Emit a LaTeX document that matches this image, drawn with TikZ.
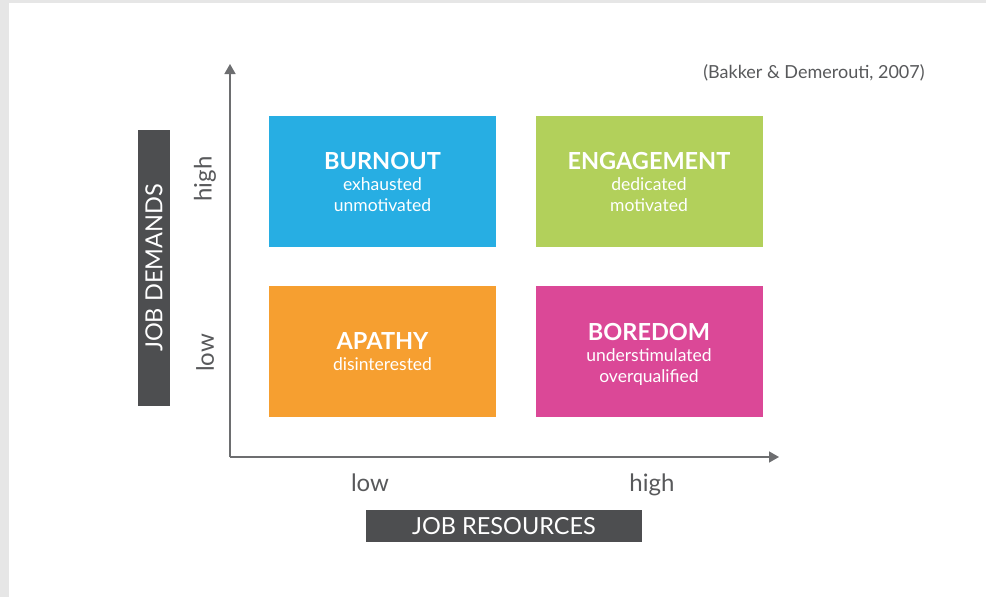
\documentclass[tikz,border=0pt]{standalone}
\usepackage{fontspec}
\setmainfont{Lato}
\usetikzlibrary{arrows.meta}
\definecolor{cblue}{HTML}{27AEE3}
\definecolor{cgreen}{HTML}{B2D05B}
\definecolor{corange}{HTML}{F69F30}
\definecolor{cpink}{HTML}{DB4897}
\definecolor{cdark}{HTML}{4D4E50}
\definecolor{caxis}{HTML}{6D6E70}
\definecolor{ctext}{HTML}{58595B}
\definecolor{cframe}{HTML}{E6E6E6}
\tikzset{
  quad/.style={minimum width=227pt, minimum height=131pt, inner sep=0pt, text=white, align=center,
    font=\fontsize{17.5}{21}\selectfont},
  labelbox/.style={fill=cdark, text=white, minimum width=276pt, minimum height=32pt, inner sep=0pt,
    font=\fontsize{23.5}{26}\selectfont},
  tick/.style={text=ctext, font=\fontsize{24}{28}\selectfont, inner sep=0pt},
  axisline/.style={draw=caxis, line width=1.5pt, -{Triangle[length=10pt,width=11pt]}},
}
\newcommand{\qtitle}[1]{{\fontsize{23.5}{25}\selectfont\bfseries #1}}
\begin{document}
\begin{tikzpicture}[x=1pt,y=-1pt]
\useasboundingbox (0,0) rectangle (986,597);
\fill[cframe] (0,0) rectangle (986,597);
\fill[white] (9,3) rectangle (986,597);

\node[quad, fill=cblue]   (burnout) at (382.5,181.5) {\qtitle{BURNOUT}\\exhausted\\unmotivated};
\node[quad, fill=cgreen]  (engage)  at (649,181.5) {\qtitle{ENGAGEMENT}\\dedicated\\motivated};
\node[quad, fill=corange] (apathy)  at (382.5,351.5) {\qtitle{APATHY}\\disinterested};
\node[quad, fill=cpink]   (boredom) at (649,351.5) {};
\node[text=white, align=center, inner sep=0pt, font=\fontsize{17.5}{21}\selectfont] (boredomtext) at (649,354) {\qtitle{BOREDOM}\\understimulated\\overqualified};

\coordinate (origin) at (230,457);
\coordinate (ytop) at (230,64);
\coordinate (xend) at (779,457);
\draw[axisline] (origin) -- (ytop);
\draw[axisline] (origin) -- (xend);

\node[tick, rotate=90] (yhigh) at (205,179) {high};
\node[tick, rotate=90] (ylow) at (205,353) {low};
\node[tick, anchor=base] (xlow) at (370,491) {low};
\node[tick, anchor=base] (xhigh) at (652,491) {high};

\node[labelbox, rotate=90] (demands) at (154,268) {JOB DEMANDS};
\node[labelbox] (resources) at (504,526) {JOB RESOURCES};

\node[text=ctext, font=\fontsize{18}{21}\selectfont, inner sep=0pt] (cite) at (814,73) {(Bakker \& Demerouti, 2007)};
\end{tikzpicture}
\end{document}
